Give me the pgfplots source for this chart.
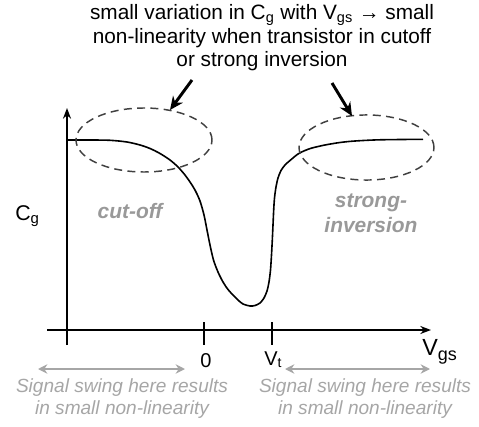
\documentclass[border=0pt]{standalone}
\usepackage{pgfplots}
\pgfplotsset{compat=1.18}
\usepackage{fontspec}
\setmainfont{Liberation Sans}
\usetikzlibrary{arrows.meta}
\definecolor{lgrey}{HTML}{A6A6A6}
\definecolor{mgrey}{HTML}{999999}
\definecolor{dgrey}{HTML}{404040}
\begin{document}
\begin{tikzpicture}
\begin{axis}[x=0.75pt, y=0.75pt, xmin=0, xmax=479, ymin=0, ymax=426,
  hide axis, clip=false]
\path (axis cs:0,0) rectangle (axis cs:479,426);
% axes
\draw[line width=1.3pt, -{Stealth[length=8pt,width=6pt]}] (axis cs:67,81) -- (axis cs:67,318);
\draw[line width=1.3pt, -{Stealth[length=8pt,width=6pt]}] (axis cs:47,96) -- (axis cs:431,96);
\draw[line width=1.3pt] (axis cs:204,104) -- (axis cs:204,81);
\draw[line width=1.3pt] (axis cs:272,104) -- (axis cs:272,81);
% curve
\addplot[smooth, tension=0.5, line width=1.2pt, black] coordinates {
(67,286) (90,286) (110,285.7) (127,284) (140,281) (150,277.5) (160,272.5) (170,266)
(178,259) (185,251) (190,244) (195,236) (200,225) (204,211) (207,196) (210,181)
(213.5,166) (218,154) (223,144) (228,136.5) (233,131) (238,126) (243,122) (250,120)
(255,120.5) (260,123) (264,128) (267,135) (269,144) (270.5,156) (271.5,171) (272.3,186)
(273,201) (273.7,216) (274.5,228) (276,239) (278,248) (281,255.5) (285,261) (290,265.5)
(298,272) (305,275.5) (312,278) (325,281) (340,283.5) (355,285) (380,286.2) (423,286.7)};
% ellipses
\draw[dgrey, line width=1.1pt, dash pattern=on 6pt off 4pt] (axis cs:144,286) ellipse [x radius=51pt, y radius=24pt];
\draw[dgrey, line width=1.1pt, dash pattern=on 6pt off 4pt] (axis cs:366.5,278.5) ellipse [x radius=50.6pt, y radius=24.4pt];
% black arrows
\draw[line width=2.2pt, -{Stealth[length=10pt,width=9pt]}] (axis cs:192,346) -- (axis cs:170,316);
\draw[line width=2.2pt, -{Stealth[length=10pt,width=9pt]}] (axis cs:332,343) -- (axis cs:352,310);
% top text
\node[align=center, font=\fontsize{15.6}{17.6}\selectfont] at (axis cs:262,388)
 {small variation in C\textsubscript{g} with V\textsubscript{gs} → small\\
  non-linearity when transistor in cutoff\\
  or strong inversion};
% axis labels
\node[anchor=base west, inner sep=0pt, font=\fontsize{16}{18}\selectfont] at (axis cs:15,206) {C\textsubscript{g}};
\node[anchor=base west, inner sep=0pt, font=\fontsize{17.5}{19}\selectfont] at (axis cs:422,71) {V\raisebox{-4pt}{\fontsize{13.5}{14}\selectfont gs}};
\node[anchor=base, inner sep=0pt, font=\fontsize{15}{16}\selectfont] at (axis cs:206,59) {0};
\node[anchor=base west, inner sep=0pt, font=\fontsize{15}{16}\selectfont] at (axis cs:264,61) {V\textsubscript{t}};
% region labels
\node[mgrey, font=\fontsize{15.7}{18}\selectfont\bfseries\itshape] at (axis cs:130,215) {cut-off};
\node[mgrey, align=center, font=\fontsize{15.7}{18.5}\selectfont\bfseries\itshape] at (axis cs:371,213) {strong-\\inversion};
% grey arrows
\draw[lgrey, line width=1.4pt, {Stealth[length=7pt,width=7pt]}-{Stealth[length=7pt,width=7pt]}] (axis cs:38,57) -- (axis cs:185,57);
\draw[lgrey, line width=1.4pt, {Stealth[length=7pt,width=7pt]}-{Stealth[length=7pt,width=7pt]}] (axis cs:285,57) -- (axis cs:430,57);
\node[lgrey, align=center, anchor=base, font=\fontsize{14.3}{15.8}\selectfont\itshape] at (axis cs:122,12) {Signal swing here results\\in small non-linearity};
\node[lgrey, align=center, anchor=base, font=\fontsize{14.3}{15.8}\selectfont\itshape] at (axis cs:365,12) {Signal swing here results\\in small non-linearity};
\end{axis}
\end{tikzpicture}
\end{document}
